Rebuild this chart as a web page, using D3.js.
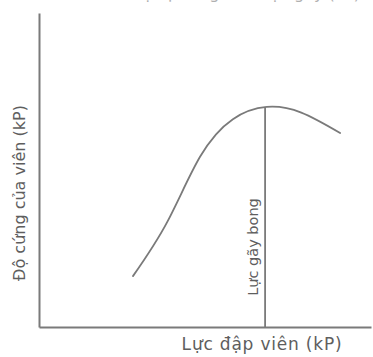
<!DOCTYPE html>
<html>
<head>
<meta charset="utf-8">
<script src="https://cdn.jsdelivr.net/npm/d3@7"></script>
<style>
  html, body { margin: 0; padding: 0; background: #fff; }
  svg { display: block; }
</style>
</head>
<body>
<script>
// Compression force (x) vs tablet hardness (y), relative units 0–100
const force    = [28.3, 38.6, 48.5, 58.4, 68.6, 79.0, 90.7];
const hardness = [16.2, 33.4, 54.2, 66.2, 70.1, 68.3, 61.8];

// Capping force: where the hardness peaks
const cappingForce = 68.1;
const cappingHardness = 70.1;

const titleText = "Đồ thị độ cứng theo lực gãy (kP)";
const xLabel = "Lực đập viên (kP)";
const yLabel = "Độ cứng của viên (kP)";
const markLabel = "Lực gãy bong";

const W = 373, H = 357;
const margin = { left: 39, right: 2, top: 13, bottom: 30 };

const svg = d3.select("body").append("svg")
  .attr("width", W).attr("height", H);

const x = d3.scaleLinear().domain([0, 100]).range([margin.left, W - margin.right]);
const y = d3.scaleLinear().domain([0, 100]).range([H - margin.bottom, margin.top]);

const ink = "#7a7a7a";
const textInk = "#5e5e5e";
const font = "'DejaVu Sans', sans-serif";

// Title, running off the top edge
svg.append("text")
  .attr("x", 360).attr("y", -1)
  .attr("text-anchor", "end")
  .attr("font-family", font).attr("font-size", 16)
  .attr("fill", "#b0b0b0")
  .text(titleText);

// Axes drawn as bare lines (no ticks)
const xAxis = d3.axisBottom(x).tickValues([]).tickSizeOuter(0);
const yAxis = d3.axisLeft(y).tickValues([]).tickSizeOuter(0);

svg.append("g")
  .attr("transform", `translate(0,${y(0)})`)
  .call(xAxis)
  .call(g => g.select(".domain").attr("stroke", ink).attr("stroke-width", 2));

svg.append("g")
  .attr("transform", `translate(${x(0)},0)`)
  .call(yAxis)
  .call(g => g.select(".domain").attr("stroke", ink).attr("stroke-width", 2));

// Hardness curve
const pts = force.map((f, i) => [f, hardness[i]]);
const line = d3.line()
  .x(d => x(d[0]))
  .y(d => y(d[1]))
  .curve(d3.curveNatural);

svg.append("path")
  .datum(pts)
  .attr("d", line)
  .attr("fill", "none")
  .attr("stroke", ink)
  .attr("stroke-width", 1.8)
  .attr("stroke-linecap", "round");

// Capping force marker
svg.append("line")
  .attr("x1", x(cappingForce)).attr("x2", x(cappingForce))
  .attr("y1", y(0)).attr("y2", y(cappingHardness))
  .attr("stroke", ink).attr("stroke-width", 1.8);

svg.append("text")
  .attr("transform", `translate(${x(cappingForce) - 7},${y(0) - 80}) rotate(-90)`)
  .attr("text-anchor", "middle")
  .attr("font-family", font).attr("font-size", 14.5)
  .attr("fill", textInk)
  .text(markLabel);

// Axis titles
svg.append("text")
  .attr("x", 262).attr("y", 350)
  .attr("text-anchor", "middle")
  .attr("font-family", font).attr("font-size", 17)
  .attr("letter-spacing", 0.8)
  .attr("fill", textInk)
  .text(xLabel);

svg.append("text")
  .attr("transform", `translate(25,193) rotate(-90)`)
  .attr("text-anchor", "middle")
  .attr("font-family", font).attr("font-size", 16)
  .attr("fill", textInk)
  .text(yLabel);
</script>
</body>
</html>
